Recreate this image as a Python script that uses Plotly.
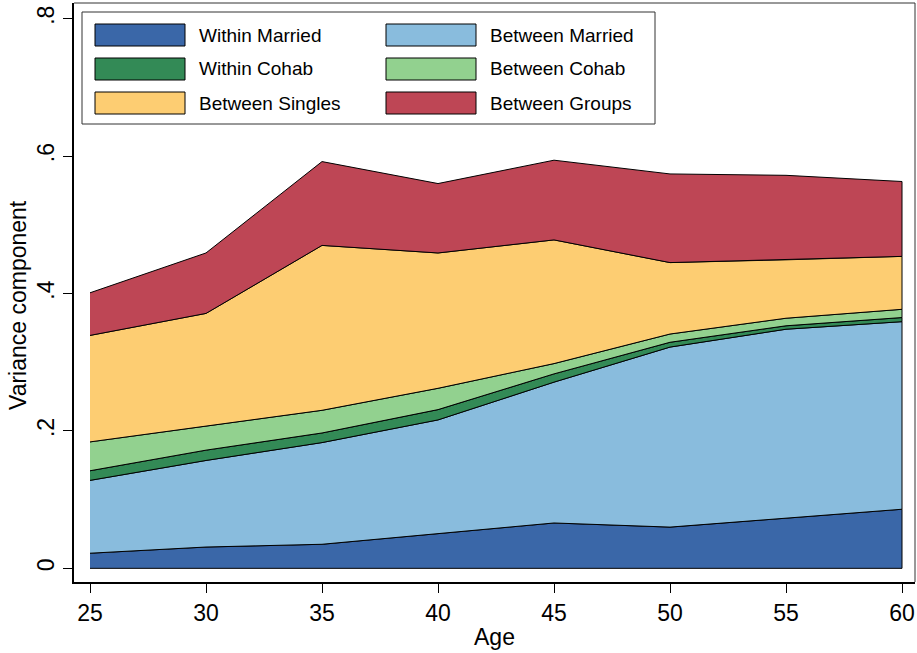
import numpy as np
import plotly.graph_objects as go

# Age groups on the horizontal axis
ages = [25, 30, 35, 40, 45, 50, 55, 60]

# Variance components, stacked bottom to top
within_married = [0.022, 0.031, 0.035, 0.051, 0.066, 0.060, 0.073, 0.086]
between_married = [0.106, 0.126, 0.148, 0.165, 0.205, 0.262, 0.275, 0.273]
within_cohab = [0.014, 0.015, 0.014, 0.015, 0.012, 0.007, 0.005, 0.006]
between_cohab = [0.042, 0.035, 0.033, 0.031, 0.015, 0.012, 0.011, 0.012]
between_singles = [0.155, 0.164, 0.240, 0.197, 0.180, 0.104, 0.085, 0.077]
between_groups = [0.062, 0.088, 0.122, 0.101, 0.116, 0.129, 0.123, 0.109]

series_names = ["Within Married", "Between Married", "Within Cohab",
                "Between Cohab", "Between Singles", "Between Groups"]
series_values = [within_married, between_married, within_cohab,
                 between_cohab, between_singles, between_groups]
series_colors = ["#3A67A8", "#89BCDD", "#338A56", "#92D18F", "#FDCD72", "#BE4655"]

y_tick_vals = [0, 0.2, 0.4, 0.6, 0.8]
y_tick_text = ["0", ".2", ".4", ".6", ".8"]

W, H = 917, 653
M_L, M_R, M_T, M_B = 74, 2, 3, 71
PW, PH = W - M_L - M_R, H - M_T - M_B


def px_x(px):
    return (px - M_L) / PW


def px_y(py):
    return (H - M_B - py) / PH


fig = go.Figure()

# Each band is a closed polygon between the running totals
bottom = np.zeros(len(ages))
for name, vals, col in zip(series_names, series_values, series_colors):
    top = bottom + np.array(vals)
    xs = list(ages) + list(ages[::-1])
    ys = list(top) + list(bottom[::-1])
    fig.add_trace(go.Scatter(
        x=xs, y=ys, name=name, mode="lines", fill="toself",
        fillcolor=col, line=dict(color="black", width=1),
        showlegend=False, hoverinfo="skip",
    ))
    bottom = top

FONT = "Helvetica, Arial, Liberation Sans"
tick_font = dict(family=FONT, size=23, color="black")
title_font = dict(family=FONT, size=23, color="black")

fig.update_layout(
    width=W, height=H,
    margin=dict(l=M_L, r=M_R, t=M_T, b=M_B),
    paper_bgcolor="white", plot_bgcolor="white",
    font=tick_font,
    xaxis=dict(
        range=[24.31, 60.56], tickvals=ages, ticks="outside", ticklen=9,
        tickwidth=1, tickcolor="black", showgrid=False, zeroline=False,
        showline=True, linecolor="black", linewidth=2,
        title=dict(text="Age", font=title_font, standoff=4),
        tickfont=tick_font,
    ),
    yaxis=dict(
        range=[-0.0199, 0.8228], tickvals=y_tick_vals, ticktext=y_tick_text,
        tickangle=-90, ticks="outside", ticklen=9, tickwidth=1,
        tickcolor="black", showgrid=False, zeroline=False,
        showline=True, linecolor="black", linewidth=2,
        tickfont=tick_font,
    ),
)

# Thin frame on the top and right of the plot region
shapes = [
    dict(type="line", xref="paper", yref="paper", x0=0, x1=1, y0=1, y1=1,
         line=dict(color="#333333", width=1)),
    dict(type="line", xref="paper", yref="paper", x0=1, x1=1, y0=0, y1=1,
         line=dict(color="#333333", width=1)),
]

# Vertical axis title
annotations = [dict(xref="paper", yref="paper", x=px_x(18), y=px_y(305),
                    xanchor="center", yanchor="middle", showarrow=False,
                    textangle=-90, text="Variance component", font=title_font)]

# Legend box drawn in two columns
shapes.append(dict(type="rect", xref="paper", yref="paper",
                   x0=px_x(82), x1=px_x(655), y0=px_y(124), y1=px_y(12),
                   fillcolor="white", line=dict(color="#333333", width=1)))
col_x = [95, 386]
row_y = [35, 69, 103]
sw_w, sw_h = 90, 22
for i, (name, col) in enumerate(zip(series_names, series_colors)):
    cx = col_x[i % 2]
    cy = row_y[i // 2]
    shapes.append(dict(type="rect", xref="paper", yref="paper",
                       x0=px_x(cx), x1=px_x(cx + sw_w),
                       y0=px_y(cy + sw_h / 2), y1=px_y(cy - sw_h / 2),
                       fillcolor=col, line=dict(color="black", width=1)))
    annotations.append(dict(xref="paper", yref="paper",
                            x=px_x(cx + sw_w + 12), y=px_y(cy),
                            xanchor="left", yanchor="middle", showarrow=False,
                            text=name,
                            font=dict(family=FONT, size=19, color="black")))

fig.update_layout(shapes=shapes, annotations=annotations)

fig.write_html("out.html")
